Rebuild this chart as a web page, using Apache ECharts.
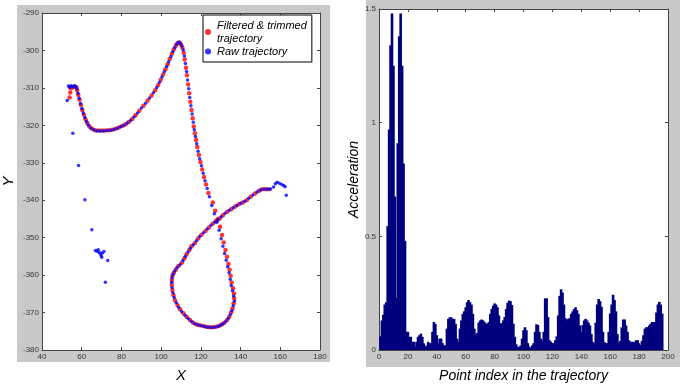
<!DOCTYPE html>
<html>
<head>
<meta charset="utf-8">
<script src="https://cdn.jsdelivr.net/npm/echarts@6/dist/echarts.min.js"></script>
<style>
  html, body { margin: 0; padding: 0; background: #fff; }
  #main { width: 680px; height: 388px; }
</style>
</head>
<body>
<div id="main"></div>
<script>
// filtered & trimmed trajectory (red)
const filteredPts = [
  [53.9,-312.6],[54.2,-311.2],[54.6,-310.1],[55.4,-309.8],[56.3,-309.7],[57.2,-309.8],[57.7,-310.6],[58.3,-311.9],
  [58.9,-313.2],[59.6,-314.6],[60.3,-315.9],[61.1,-317.2],[61.9,-318.4],[62.8,-319.4],[63.9,-320.3],[65.2,-320.9],
  [66.8,-321.3],[68.5,-321.4],[70.2,-321.4],[71.9,-321.4],[73.6,-321.3],[75.3,-321.2],[77,-320.9],[78.7,-320.6],
  [80.4,-320.2],[82.1,-319.7],[83.7,-319.1],[85.4,-318.3],[87.1,-317.3],[89,-316.1],[91.1,-314.8],[93.2,-313.4],
  [95.2,-312],[97,-310.6],[98.5,-309.2],[99.8,-307.8],[101,-306.4],[102.2,-305],[103.3,-303.7],[104.3,-302.3],
  [105.4,-300.9],[106.4,-299.7],[107.4,-298.7],[108.3,-298.1],[109.2,-297.9],[110,-298.4],[110.7,-299.3],[111.4,-300.6],
  [111.9,-302.4],[112.5,-304.6],[113,-306.6],[113.6,-309.1],[114.1,-311.4],[114.7,-313.7],[115.3,-315.9],[115.9,-318.1],
  [116.4,-320.3],[117,-322.1],[117.6,-323.9],[118.2,-325.8],[119,-327.9],[119.8,-329.8],[120.7,-331.8],[121.6,-333.8],
  [122.6,-335.8],[123.8,-338.1],[126,-340.6],[127.2,-342.8],[128.5,-345.1],[129.7,-347.1],[130.7,-349.3],[131.5,-351.3],
  [132.4,-353.3],[133.2,-355.1],[133.9,-357],[134.5,-358.6],[135,-360.2],[135.5,-362],[136.2,-363.5],[136.7,-364.9],
  [136.8,-366.2],[136.5,-367.5],[136,-368.9],[135.2,-370],[134.3,-371.1],[133.2,-372],[131.8,-372.7],[130.5,-373.2],
  [129.3,-373.5],[127.7,-373.8],[126,-373.9],[124.4,-373.9],[122.7,-373.8],[121.1,-373.6],[119.4,-373.4],[117.8,-373.2],
  [116.1,-372.7],[114.5,-372],[112.8,-371.1],[111.2,-370.2],[109.5,-369.1],[108.2,-368],[107,-366.7],[106.2,-365.3],
  [105.7,-364],[105.4,-362.6],[105.4,-361.3],[105.7,-360.2],[106.4,-359.4],[107.4,-358.5],[108.7,-357.6],[110.4,-356.7],
  [111.7,-355.5],[112.8,-354.4],[114.2,-353.3],[115.3,-352.3],[117,-351.4],[118.6,-350.2],[120.3,-349.2],[122.3,-348.2],
  [124.1,-347.3],[126.1,-346.2],[127.8,-345.5],[129.4,-344.9],[131.1,-344],[133.3,-343.1],[135.3,-342.4],[137.3,-341.7],
  [139.1,-341.1],[141.1,-340.6],[143.1,-340],[145.1,-339.1],[147.3,-338.2],[149.3,-337.5],[150.9,-337.1],[152.6,-337.1],
  [154.3,-337.1]
];

// raw trajectory (blue)
const rawPts = [
  [52.7,-313.4],[53.3,-309.5],[53.9,-309.9],[54.6,-309.4],[55.5,-309.6],[56.4,-309.4],[57.1,-309.7],[57.6,-310.3],
  [58.1,-311.4],[58.7,-312.8],[59.4,-314.2],[60.1,-315.5],[60.8,-316.7],[61.6,-317.9],[62.4,-319],[63.3,-319.9],
  [64.5,-320.7],[66,-321.2],[67.6,-321.5],[69.3,-321.5],[71,-321.5],[72.7,-321.4],[74.5,-321.3],[76.2,-321.1],
  [77.9,-320.8],[79.6,-320.4],[81.3,-320],[82.9,-319.4],[84.6,-318.7],[86.3,-317.8],[88.1,-316.7],[90.1,-315.4],
  [92.2,-314.1],[94.2,-312.7],[96.1,-311.3],[97.8,-309.9],[99.2,-308.5],[100.4,-307.1],[101.6,-305.7],[102.8,-304.3],
  [103.8,-303],[104.9,-301.6],[105.9,-300.3],[106.9,-299.2],[107.9,-298.3],[108.8,-297.8],[109.6,-298],[110.4,-298.8],
  [111.1,-299.9],[111.7,-301.5],[112.2,-303.5],[112.8,-305.6],[113.3,-307.9],[113.9,-310.2],[114.4,-312.6],[115,-314.8],
  [115.6,-317],[116.2,-319.2],[116.7,-321.2],[117.3,-323],[117.9,-324.9],[118.6,-326.9],[119.4,-328.9],[120.3,-330.8],
  [121.2,-332.8],[122.1,-334.8],[123.2,-336.9],[124.3,-339.1],[125.5,-341.4],[126.8,-343.6],[128.1,-345.9],[129.2,-348],
  [130.2,-350.3],[131.1,-352.3],[131.9,-354.2],[132.8,-356],[133.5,-357.8],[134.2,-359.4],[134.8,-361.1],[135.3,-362.8],
  [135.9,-364.2],[136.5,-365.6],[136.9,-366.9],[136.3,-368.2],[135.6,-369.5],[134.8,-370.6],[133.8,-371.6],[132.5,-372.4],
  [131.2,-373],[129.9,-373.4],[128.5,-373.7],[126.8,-373.9],[125.2,-374],[123.5,-373.9],[121.9,-373.7],[120.2,-373.5],
  [118.6,-373.3],[116.9,-373],[115.3,-372.4],[113.6,-371.6],[112,-370.7],[110.3,-369.7],[108.8,-368.6],[107.6,-367.4],
  [106.6,-366],[105.9,-364.7],[105.5,-363.3],[105.3,-361.9],[105.5,-360.7],[106,-359.8],[106.9,-358.9],[108,-358],
  [109.5,-357.2],[111,-356.1],[112.2,-355],[113.5,-353.8],[114.7,-352.8],[116.2,-351.9],[117.8,-350.8],[119.4,-349.7],
  [121.3,-348.7],[123.2,-347.7],[125.1,-346.7],[127,-345.8],[128.6,-345.2],[130.3,-344.4],[132.2,-343.5],[134.3,-342.7],
  [136.3,-342],[138.2,-341.4],[140.1,-340.8],[142.1,-340.3],[144.1,-339.5],[146.2,-338.6],[148.3,-337.8],[150.1,-337.3],
  [151.8,-337.1],[153.5,-337.1],[155.1,-337],[156.6,-336.5],[157.5,-335.6],[158.4,-335.2],[159.5,-335.5],[160.7,-335.8],
  [161.7,-336.1],[162.4,-336.4],[163,-338.7]
];
// raw points that the filter removed
const rawOutliers = [
  [55.5,-322.1],[58.4,-330.7],[61.6,-339.9],[65.1,-347.9],[66.9,-353.4],[67.6,-353.6],[68.3,-353.2],[68.8,-353.9],
  [69.3,-354.3],[69.8,-354.8],[70.1,-355.2],[70.4,-354.1],[71.2,-353.7],[73.1,-356.1],[71.9,-361.9]
];

// acceleration per point index (1..196)
const accel = [
  0.06,0.13,0.155,0.2,0.21,0.545,0.97,1.34,1.48,1.25,0.675,0.23,0.91,1.38,1.48,1.25,0.82,0.48,0.08,
  0.08,0.058,0.058,0.036,0.036,0.014,0.036,0.058,0.065,0.072,
  0.058,0.029,0.014,0.02,0.036,0.03,0.03,0.08,0.123,0.115,
  0.065,0.03,0.05,0.05,0.03,0.02,0.02,0.094,0.137,0.144,
  0.144,0.137,0.137,0.115,0.05,0.036,0.094,0.13,0.159,0.17,
  0.188,0.21,0.22,0.21,0.2,0.159,0.094,0.065,0.075,0.12,
  0.13,0.134,0.13,0.123,0.116,0.116,0.123,0.159,0.18,0.195,
  0.205,0.2,0.188,0.152,0.118,0.116,0.13,0.145,0.18,0.207,
  0.217,0.215,0.198,0.116,0.058,0.025,0.014,0.014,0.02,0.05,
  0.087,0.1,0.087,0.03,0.015,0.01,0.02,0.03,0.08,0.113,
  0.11,0.08,0.05,0.043,0.08,0.227,0.227,0.145,0.043,0.036,
  0.03,0.03,0.043,0.06,0.152,0.238,0.267,0.253,0.2,0.14,
  0.13,0.137,0.14,0.159,0.17,0.18,0.188,0.175,0.159,0.108,
  0.08,0.11,0.13,0.137,0.13,0.12,0.108,0.07,0.035,0.03,
  0.12,0.2,0.224,0.215,0.19,0.08,0.035,0.03,0.03,0.08,
  0.16,0.2,0.243,0.22,0.17,0.07,0.03,0.04,0.1,0.134,
  0.134,0.108,0.08,0.043,0.036,0.036,0.036,0.036,0.043,0.043,
  0.03,0.022,0.04,0.065,0.094,0.1,0.1,0.108,0.116,0.123,
  0.123,0.123,0.165,0.2,0.212,0.2,0.16
];

const FONT = 'Liberation Sans';
const boxColor = '#444';
const barColor = '#00007f';
const labelStyle = { fontSize: 8, color: '#333', fontFamily: FONT };

// one matlab-like axis: ticks inside, labels only on bottom/left
function axis(grid, pos, min, max, interval, showLabel, extra) {
  return Object.assign({
    type: 'value',
    gridIndex: grid,
    position: pos,
    min: min,
    max: max,
    interval: interval,
    axisLine: { show: true, onZero: false, lineStyle: { color: boxColor, width: 1 } },
    axisTick: { show: true, inside: true, length: 3, lineStyle: { color: boxColor } },
    axisLabel: Object.assign({ show: showLabel, margin: 3 }, labelStyle),
    splitLine: { show: false }
  }, extra || {});
}

const chart = echarts.init(document.getElementById('main'));

const options = {
  animation: false,
  backgroundColor: '#fff',
  graphic: [
    // gray figure panels behind the axes
    { type: 'rect', z: -10, shape: { x: 17, y: 5, width: 313, height: 357 }, style: { fill: '#c9c9c9' } },
    { type: 'rect', z: -10, shape: { x: 366, y: 0, width: 314, height: 367 }, style: { fill: '#c9c9c9' } }
  ],
  grid: [
    { left: 39, top: 13, width: 281, height: 337, show: true, backgroundColor: '#fff', borderWidth: 0 },
    { left: 379, top: 9, width: 289, height: 346, show: true, backgroundColor: '#fff', borderWidth: 0 }
  ],
  legend: {
    left: 203,
    top: 15,
    orient: 'vertical',
    itemWidth: 8,
    itemHeight: 6,
    itemGap: 0,
    padding: [4, 5, 4, 2],
    backgroundColor: '#fff',
    borderColor: '#000',
    borderWidth: 1,
    icon: 'circle',
    textStyle: { fontSize: 11, lineHeight: 13, fontStyle: 'italic', color: '#000', fontFamily: FONT },
    data: ['Filtered & trimmed trajectory', 'Raw trajectory'],
    formatter: function (name) {
      return name === 'Filtered & trimmed trajectory' ? 'Filtered & trimmed\ntrajectory' : name;
    }
  },
  xAxis: [
    axis(0, 'bottom', 40, 180, 20, true, {
      name: 'X', nameLocation: 'middle', nameGap: 18,
      nameTextStyle: { fontSize: 15, fontStyle: 'italic', color: '#000', fontFamily: FONT }
    }),
    axis(0, 'top', 40, 180, 20, false),
    axis(1, 'bottom', 0, 200, 20, true, {
      name: 'Point index in the trajectory', nameLocation: 'middle', nameGap: 19,
      nameTextStyle: { fontSize: 14, fontStyle: 'italic', color: '#000', fontFamily: FONT }
    }),
    axis(1, 'top', 0, 200, 20, false)
  ],
  yAxis: [
    axis(0, 'left', -380, -290, 10, true, {
      name: 'Y', nameLocation: 'middle', nameGap: 26,
      nameTextStyle: { fontSize: 15, fontStyle: 'italic', color: '#000', fontFamily: FONT }
    }),
    axis(0, 'right', -380, -290, 10, false),
    axis(1, 'left', 0, 1.5, 0.5, true, {
      name: 'Acceleration', nameLocation: 'middle', nameGap: 18,
      nameTextStyle: { fontSize: 14, fontStyle: 'italic', color: '#000', fontFamily: FONT }
    }),
    axis(1, 'right', 0, 1.5, 0.5, false)
  ],
  series: [
    {
      name: 'Filtered & trimmed trajectory',
      type: 'scatter',
      xAxisIndex: 0,
      yAxisIndex: 0,
      symbolSize: 4.5,
      itemStyle: { color: '#ff0000' },
      data: filteredPts
    },
    {
      name: 'Raw trajectory',
      type: 'scatter',
      xAxisIndex: 0,
      yAxisIndex: 0,
      symbolSize: 3.5,
      itemStyle: { color: '#0000ff' },
      data: rawPts.concat(rawOutliers)
    },
    {
      name: 'accel',
      type: 'bar',
      xAxisIndex: 2,
      yAxisIndex: 2,
      // wider than the 1.45px step so neighbouring bars overlap and leave no seams
      barWidth: 2.6,
      itemStyle: { color: barColor },
      data: accel.map((v, i) => [i + 1, v])
    }
  ]
};

chart.setOption(options, true);
</script>
</body>
</html>
